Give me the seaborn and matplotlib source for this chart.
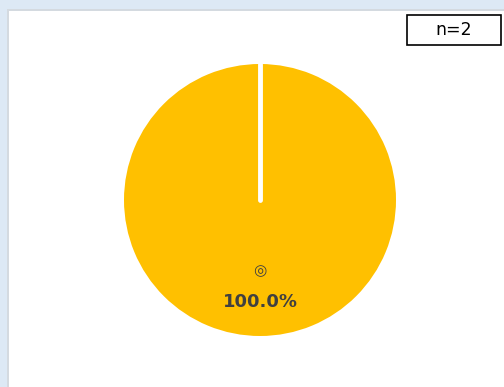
import matplotlib
matplotlib.use("Agg")
import matplotlib.pyplot as plt
from matplotlib.patches import Rectangle
import seaborn as sns

sns.set_theme(style="white")
plt.rcParams["font.family"] = ["DejaVu Sans", "Noto Sans CJK JP"]

# Answer categories and counts
categories = ["◎"]
counts = [2]
sample_label = "n=2"

colors = ["#FFC000"]

W, H = 504, 387
fig = plt.figure(figsize=(W / 100, H / 100), dpi=100, facecolor="#DDE9F5")

# white panel with a thin grey rim
fig.patches.append(Rectangle((7 / W, 0), 1 - 7 / W, 1 - 9 / H, transform=fig.transFigure,
                             facecolor="#D4DAE0", edgecolor="none", zorder=-2))
fig.patches.append(Rectangle((9 / W, 0), 1 - 9 / W, 1 - 11 / H, transform=fig.transFigure,
                             facecolor="white", edgecolor="none", zorder=-1))

# axes centred on the pie
cx, cy, r = 260, 200, 136
ax = fig.add_axes([(cx - r) / W, (H - cy - r) / H, 2 * r / W, 2 * r / H])
ax.set_facecolor("none")
ax.set_zorder(1)

wedges, texts, autotexts = ax.pie(
    counts, labels=categories, colors=colors, startangle=90, counterclock=False,
    autopct="%1.1f%%", labeldistance=0.52, pctdistance=0.75,
    wedgeprops=dict(edgecolor="none"),
    textprops=dict(color="#404040"),
)
for t in texts:
    t.set_fontsize(11)
    t.set_ha("center")
for t in autotexts:
    t.set_fontsize(13)
    t.set_fontweight("bold")

# white separator at the start angle
ax.plot([0, 0], [0, 1.0], color="white", lw=3.5, solid_capstyle="round", zorder=5)
ax.set_xlim(-1, 1)
ax.set_ylim(-1, 1)
ax.set_aspect("equal")
ax.axis("off")

# sample size box
bx0, by0, bx1, by1 = 407, 15, 501, 45
fig.patches.append(Rectangle((bx0 / W, 1 - by1 / H), (bx1 - bx0) / W, (by1 - by0) / H,
                             transform=fig.transFigure, facecolor="white",
                             edgecolor="black", lw=1.2, zorder=3))
fig.text((bx0 + bx1) / 2 / W, 1 - (by0 + by1) / 2 / H, sample_label,
         ha="center", va="center", fontsize=12.5, color="black", zorder=4)

fig.savefig("out.png", dpi=100, facecolor=fig.get_facecolor())
